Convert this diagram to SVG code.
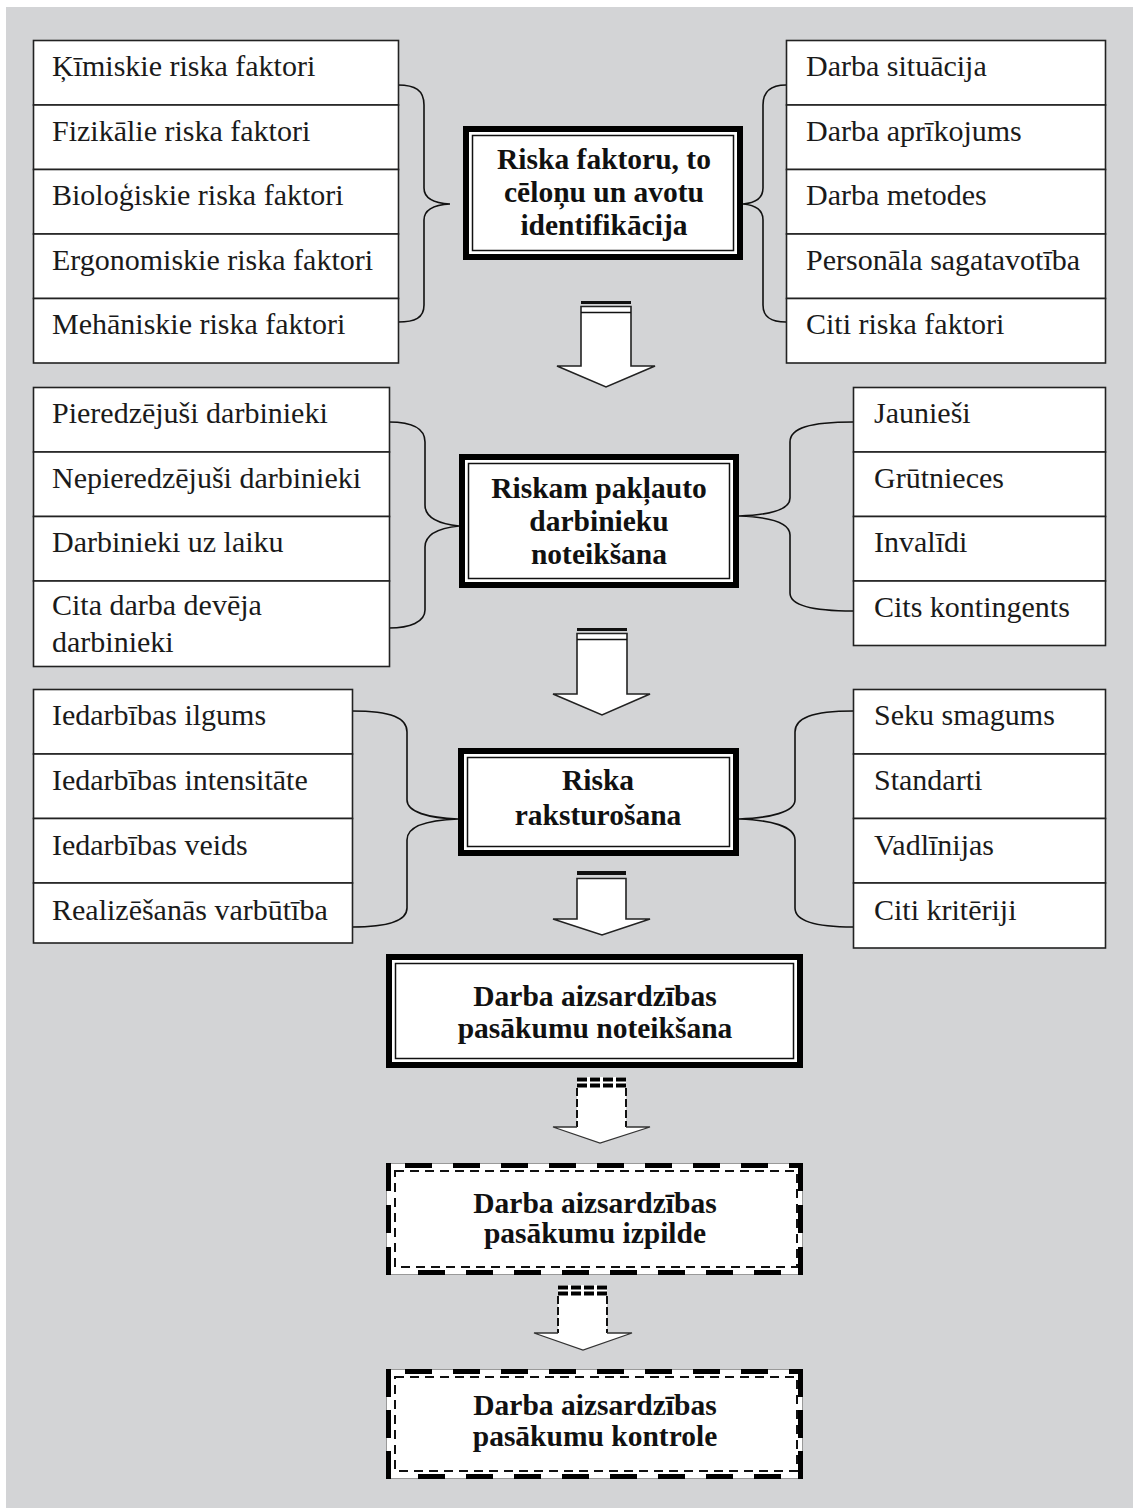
<svg xmlns="http://www.w3.org/2000/svg" width="1133" height="1508" viewBox="0 0 1133 1508">
<style>
.cell{fill:#fff;stroke:#222;stroke-width:1.6}
.t{font-family:"Liberation Serif","Times New Roman",serif;font-size:30px;fill:#1a1a1a}
.b{font-family:"Liberation Serif","Times New Roman",serif;font-size:29.5px;font-weight:bold;fill:#111;text-anchor:middle}
.brace{fill:none;stroke:#111;stroke-width:1.6}
.outer{fill:#fff;stroke:#000;stroke-width:6}
.inner{fill:none;stroke:#111;stroke-width:1.5}
.arrow{fill:#fff;stroke:#222;stroke-width:1.6;stroke-linejoin:miter}
.bar{fill:#111}
.dthick{stroke:#000;stroke-width:5;fill:none}
.dthin{fill:none;stroke:#111;stroke-width:2;stroke-dasharray:9 6}
.dside{stroke:#111;stroke-width:2;stroke-dasharray:8 3;fill:none}
.dhead{fill:none;stroke:#333;stroke-width:1.3}
.dtop{stroke:#000;stroke-width:4;stroke-dasharray:10 3;fill:none}
</style>
<rect x="0" y="0" width="1133" height="1508" fill="#fff"/>
<rect x="6" y="7" width="1127" height="1501" fill="#d3d4d6"/>

<g id="connectors">
<path class="brace" d="M398,85 C415,85 424,90 424,105 L424,188 C424,198 432,203 450,204 C432,205 424,210 424,220 L424,305 C424,318 415,322 398,322"/>
<path class="brace" d="M786,85 C772,85 763,90 763,105 L763,188 C763,198 755,203 743,204 C755,205 763,210 763,220 L763,305 C763,318 772,322 786,322"/>
<path class="brace" d="M389,422 C412,422 425,428 425,442 L425,505 C425,518 440,524 459,526 C440,528 425,534 425,547 L425,610 C425,622 410,628 389,628"/>
<path class="brace" d="M853,422 C810,422 790,428 790,442 L790,498 C790,510 768,515 739,516 C768,517 790,522 790,535 L790,593 C790,605 810,611 853,611"/>
<path class="brace" d="M352,711 C392,711 407,718 407,732 L407,800 C407,812 428,818 458,819 C428,820 407,826 407,840 L407,908 C407,920 392,927 352,927"/>
<path class="brace" d="M853,711 C812,711 795,718 795,732 L795,800 C795,812 770,818 739,819 C770,820 795,826 795,840 L795,908 C795,920 812,927 853,927"/>

<g id="arrow1">
<rect class="bar" x="581" y="301" width="50" height="3"/>
<polygon class="arrow" points="581,306.5 631,306.5 631,366 655,366 606,387 557,366 581,366"/>
<line x1="581" y1="312.5" x2="631" y2="312.5" stroke="#111" stroke-width="1.6"/>
</g>
<g id="arrow2">
<rect class="bar" x="577" y="628" width="50" height="3"/>
<polygon class="arrow" points="577,633.5 627,633.5 627,694 650,694 602,715 553,694 577,694"/>
<line x1="577" y1="639.5" x2="627" y2="639.5" stroke="#111" stroke-width="1.6"/>
</g>
<g id="arrow3">
<rect class="bar" x="577" y="871" width="49" height="4"/>
<polygon class="arrow" points="577,878.5 626,878.5 626,919 650,919 602,935 553,919 577,919"/>
</g>
<g id="arrow4">
<polygon fill="#fff" points="577,1077 626,1077 626,1127 650,1127 600,1143 553,1127 577,1127"/>
<line class="dtop" x1="577" y1="1079.5" x2="626" y2="1079.5"/>
<line class="dtop" x1="577" y1="1085.5" x2="626" y2="1085.5"/>
<line class="dside" x1="577" y1="1088" x2="577" y2="1127"/>
<line class="dside" x1="626" y1="1088" x2="626" y2="1127"/>
<polyline class="dhead" points="577,1127 553,1127 600,1143 650,1127 626,1127"/>
</g>
<g id="arrow5">
<polygon fill="#fff" points="558,1285 607,1285 607,1333 632,1333 583,1350 534,1333 558,1333"/>
<line class="dtop" x1="558" y1="1287.5" x2="607" y2="1287.5"/>
<line class="dtop" x1="558" y1="1293.5" x2="607" y2="1293.5"/>
<line class="dside" x1="558" y1="1296" x2="558" y2="1333"/>
<line class="dside" x1="607" y1="1296" x2="607" y2="1333"/>
<polyline class="dhead" points="558,1333 534,1333 583,1350 632,1333 607,1333"/>
</g>
</g>

<g id="left1">
<rect class="cell" x="33.5" y="40.5" width="365" height="64.5"/>
<rect class="cell" x="33.5" y="105" width="365" height="64.5"/>
<rect class="cell" x="33.5" y="169.5" width="365" height="64.5"/>
<rect class="cell" x="33.5" y="234" width="365" height="64.5"/>
<rect class="cell" x="33.5" y="298.5" width="365" height="64.5"/>
<text class="t" x="52" y="76">Ķīmiskie riska faktori</text>
<text class="t" x="52" y="141">Fizikālie riska faktori</text>
<text class="t" x="52" y="205">Bioloģiskie riska faktori</text>
<text class="t" x="52" y="270">Ergonomiskie riska faktori</text>
<text class="t" x="52" y="334">Mehāniskie riska faktori</text>
</g>

<g id="right1">
<rect class="cell" x="786.5" y="40.5" width="319" height="64.5"/>
<rect class="cell" x="786.5" y="105" width="319" height="64.5"/>
<rect class="cell" x="786.5" y="169.5" width="319" height="64.5"/>
<rect class="cell" x="786.5" y="234" width="319" height="64.5"/>
<rect class="cell" x="786.5" y="298.5" width="319" height="64.5"/>
<text class="t" x="806" y="76">Darba situācija</text>
<text class="t" x="806" y="141">Darba aprīkojums</text>
<text class="t" x="806" y="205">Darba metodes</text>
<text class="t" x="806" y="270">Personāla sagatavotība</text>
<text class="t" x="806" y="334">Citi riska faktori</text>
</g>

<g id="center1">
<rect class="outer" x="466" y="129" width="274" height="128"/>
<rect class="inner" x="472.5" y="135.5" width="261" height="115"/>
<text class="b" x="604" y="169">Riska faktoru, to</text>
<text class="b" x="604" y="202">cēloņu un avotu</text>
<text class="b" x="604" y="235">identifikācija</text>
</g>

<g id="left2">
<rect class="cell" x="33.5" y="387.5" width="356" height="64.5"/>
<rect class="cell" x="33.5" y="452" width="356" height="64.5"/>
<rect class="cell" x="33.5" y="516.5" width="356" height="64.5"/>
<rect class="cell" x="33.5" y="581" width="356" height="85.5"/>
<text class="t" x="52" y="423">Pieredzējuši darbinieki</text>
<text class="t" x="52" y="488">Nepieredzējuši darbinieki</text>
<text class="t" x="52" y="552">Darbinieki uz laiku</text>
<text class="t" x="52" y="615">Cita darba devēja</text>
<text class="t" x="52" y="652">darbinieki</text>
</g>

<g id="right2">
<rect class="cell" x="853.5" y="387.5" width="252" height="64.5"/>
<rect class="cell" x="853.5" y="452" width="252" height="64.5"/>
<rect class="cell" x="853.5" y="516.5" width="252" height="64.5"/>
<rect class="cell" x="853.5" y="581" width="252" height="64.5"/>
<text class="t" x="874" y="423">Jaunieši</text>
<text class="t" x="874" y="488">Grūtnieces</text>
<text class="t" x="874" y="552">Invalīdi</text>
<text class="t" x="874" y="617">Cits kontingents</text>
</g>

<g id="center2">
<rect class="outer" x="462" y="457" width="274" height="128"/>
<rect class="inner" x="468.5" y="463.5" width="261" height="115"/>
<text class="b" x="599" y="498">Riskam pakļauto</text>
<text class="b" x="599" y="531">darbinieku</text>
<text class="b" x="599" y="564">noteikšana</text>
</g>

<g id="left3">
<rect class="cell" x="33.5" y="689.5" width="319" height="64.5"/>
<rect class="cell" x="33.5" y="754" width="319" height="64.5"/>
<rect class="cell" x="33.5" y="818.5" width="319" height="64.5"/>
<rect class="cell" x="33.5" y="883" width="319" height="60"/>
<text class="t" x="52" y="725">Iedarbības ilgums</text>
<text class="t" x="52" y="790">Iedarbības intensitāte</text>
<text class="t" x="52" y="855">Iedarbības veids</text>
<text class="t" x="52" y="920">Realizēšanās varbūtība</text>
</g>

<g id="right3">
<rect class="cell" x="853.5" y="689.5" width="252" height="64.5"/>
<rect class="cell" x="853.5" y="754" width="252" height="64.5"/>
<rect class="cell" x="853.5" y="818.5" width="252" height="64.5"/>
<rect class="cell" x="853.5" y="883" width="252" height="65"/>
<text class="t" x="874" y="725">Seku smagums</text>
<text class="t" x="874" y="790">Standarti</text>
<text class="t" x="874" y="855">Vadlīnijas</text>
<text class="t" x="874" y="920">Citi kritēriji</text>
</g>

<g id="center3">
<rect class="outer" x="461" y="751" width="275" height="102"/>
<rect class="inner" x="467.5" y="757.5" width="262" height="89"/>
<text class="b" x="598" y="790">Riska</text>
<text class="b" x="598" y="825">raksturošana</text>
</g>

<g id="center4">
<rect class="outer" x="389" y="957" width="411" height="108"/>
<rect class="inner" x="395.5" y="963.5" width="398" height="95"/>
<text class="b" x="595" y="1006">Darba aizsardzības</text>
<text class="b" x="595" y="1038">pasākumu noteikšana</text>
</g>

<g id="center5">
<rect x="386.5" y="1163.5" width="416" height="111" fill="#fff" stroke="#999" stroke-width="1"/>
<line class="dthick" x1="405" y1="1165.5" x2="803" y2="1165.5" stroke-dasharray="27 21"/>
<line class="dthick" x1="418" y1="1272.5" x2="800" y2="1272.5" stroke-dasharray="27 21"/>
<line class="dthick" x1="388.5" y1="1163" x2="388.5" y2="1275" stroke-dasharray="28 14"/>
<line class="dthick" x1="800.5" y1="1163" x2="800.5" y2="1275" stroke-dasharray="28 14"/>
<rect class="dthin" x="395" y="1171" width="402" height="96"/>
<text class="b" x="595" y="1213">Darba aizsardzības</text>
<text class="b" x="595" y="1243">pasākumu izpilde</text>
</g>

<g id="center6">
<rect x="386.5" y="1369.5" width="416" height="109" fill="#fff" stroke="#999" stroke-width="1"/>
<line class="dthick" x1="405" y1="1371.5" x2="803" y2="1371.5" stroke-dasharray="27 21"/>
<line class="dthick" x1="418" y1="1476.5" x2="800" y2="1476.5" stroke-dasharray="27 21"/>
<line class="dthick" x1="388.5" y1="1369" x2="388.5" y2="1479" stroke-dasharray="28 13"/>
<line class="dthick" x1="800.5" y1="1369" x2="800.5" y2="1479" stroke-dasharray="28 13"/>
<rect class="dthin" x="395" y="1377" width="402" height="94"/>
<text class="b" x="595" y="1415">Darba aizsardzības</text>
<text class="b" x="595" y="1446">pasākumu kontrole</text>
</g>
</svg>
